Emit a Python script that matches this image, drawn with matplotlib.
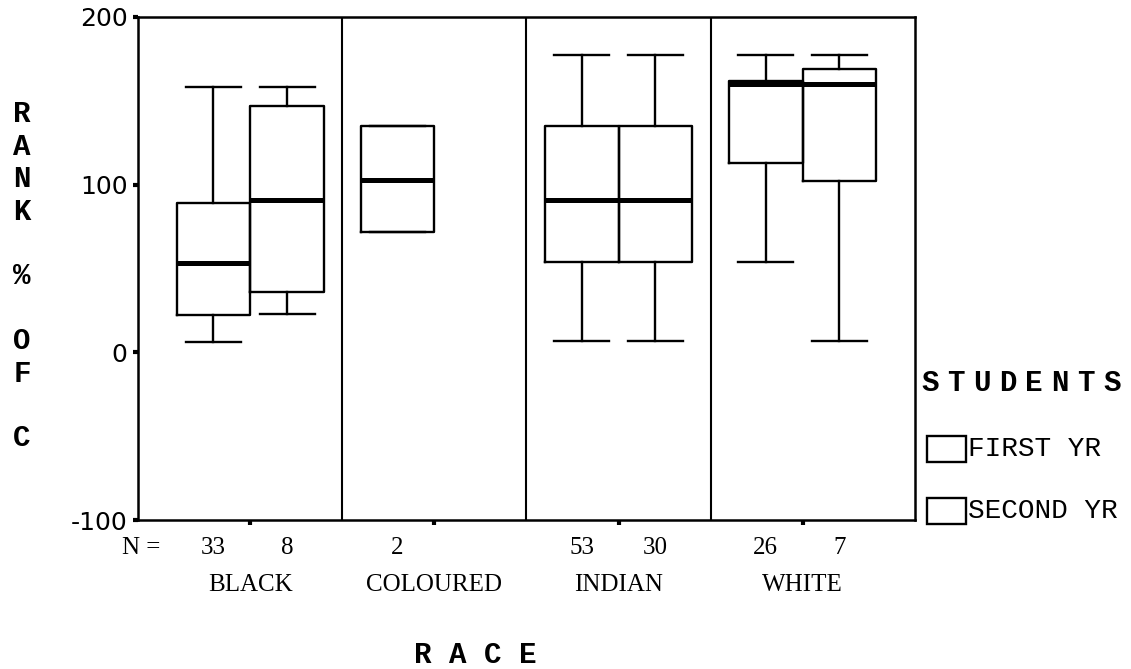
import matplotlib
matplotlib.use("Agg")
import matplotlib.pyplot as plt
from matplotlib.patches import Rectangle

plt.rcParams["axes.unicode_minus"] = False

races = ["BLACK", "COLOURED", "INDIAN", "WHITE"]

# first year students
first_n = [33, 2, 53, 26]
first_low = [6, 72, 7, 54]
first_q1 = [22, 72, 54, 113]
first_med = [53, 103, 91, 160]
first_q3 = [89, 135, 135, 162]
first_high = [158, 135, 177, 177]

# second year students (no coloured second years)
second_n = [8, None, 30, 7]
second_low = [23, None, 7, 7]
second_q1 = [36, None, 54, 102]
second_med = [91, None, 91, 160]
second_q3 = [147, None, 135, 169]
second_high = [158, None, 177, 177]

yticks = [-100, 0, 100, 200]


def make_stats(low, q1, med, q3, high):
    stats = []
    for i in range(len(low)):
        if med[i] is None:
            continue
        stats.append({"whislo": low[i], "q1": q1[i], "med": med[i],
                      "q3": q3[i], "whishi": high[i], "fliers": []})
    return stats


fig = plt.figure(figsize=(11.31, 6.69), dpi=100)
ax = fig.add_axes([0.122, 0.2227, 0.687, 0.752])

centers = list(range(1, len(races) + 1))
pos_first = [c - 0.2 for c in centers]
pos_second = [c + 0.2 for c, n in zip(centers, second_n) if n is not None]

box_style = dict(color="black", linewidth=1.7)
for stats, pos in [(make_stats(first_low, first_q1, first_med, first_q3, first_high), pos_first),
                   (make_stats(second_low, second_q1, second_med, second_q3, second_high), pos_second)]:
    ax.bxp(stats, positions=pos, widths=0.4, capwidths=0.3,
           showfliers=False, manage_ticks=False,
           boxprops=box_style, whiskerprops=box_style, capprops=box_style,
           medianprops=dict(color="black", linewidth=3.6, solid_capstyle="butt"))

# group separators
for c in centers[:-1]:
    ax.axvline(c + 0.5, color="black", linewidth=1.5)

ax.set_xlim(0.39, 4.61)
ax.set_ylim(-100, 200)
ax.set_yticks(yticks)
ax.set_yticklabels([str(t) for t in yticks], fontsize=18, family="DejaVu Sans")
ax.set_xticks(centers)
ax.set_xticklabels([])
ax.tick_params(axis="both", direction="out", length=3.5, width=3, color="black")
ax.tick_params(axis="y", pad=4)
for s in ax.spines.values():
    s.set_linewidth(1.8)
    s.set_color("black")

# N labels and race names
tr = ax.get_xaxis_transform()
for c, n1, n2, name in zip(centers, first_n, second_n, races):
    ax.text(c - 0.2, -0.056, str(n1), transform=tr, ha="center", va="center",
            fontsize=18, family="Liberation Serif")
    if n2 is not None:
        ax.text(c + 0.2, -0.056, str(n2), transform=tr, ha="center", va="center",
                fontsize=18, family="Liberation Serif")
    ax.text(c, -0.129, name, transform=tr, ha="center", va="center",
            fontsize=18, family="Liberation Serif")
fig.text(0.1247, 1 - 548 / 669, "N =", ha="center", va="center",
         fontsize=18, family="Liberation Serif")

# axis titles
fig.text(0.42, 0.021, "R A C E", ha="center", va="center",
         fontsize=21, family="Liberation Mono", weight="bold")
fig.text(0.0195, 0.85, "R\nA\nN\nK\n\n%\n\nO\nF\n\nC", ha="center", va="top",
         fontsize=21, family="Liberation Mono", weight="bold", linespacing=1.2)

# legend
for i, ch in enumerate("STUDENTS"):
    fig.text((930 + i * 26) / 1131, 1 - 383 / 669, ch, ha="center", va="center",
             fontsize=21, family="Liberation Mono", weight="bold")
for label, yc in [("FIRST YR", 449), ("SECOND YR", 511)]:
    fig.add_artist(Rectangle((927 / 1131, 1 - (yc + 13) / 669), 39 / 1131, 26 / 669,
                             transform=fig.transFigure, fill=False,
                             edgecolor="black", linewidth=1.7))
    fig.text(968 / 1131, 1 - yc / 669, label, ha="left", va="center",
             fontsize=20, family="Liberation Mono")

fig.savefig("out.png", dpi=100)
